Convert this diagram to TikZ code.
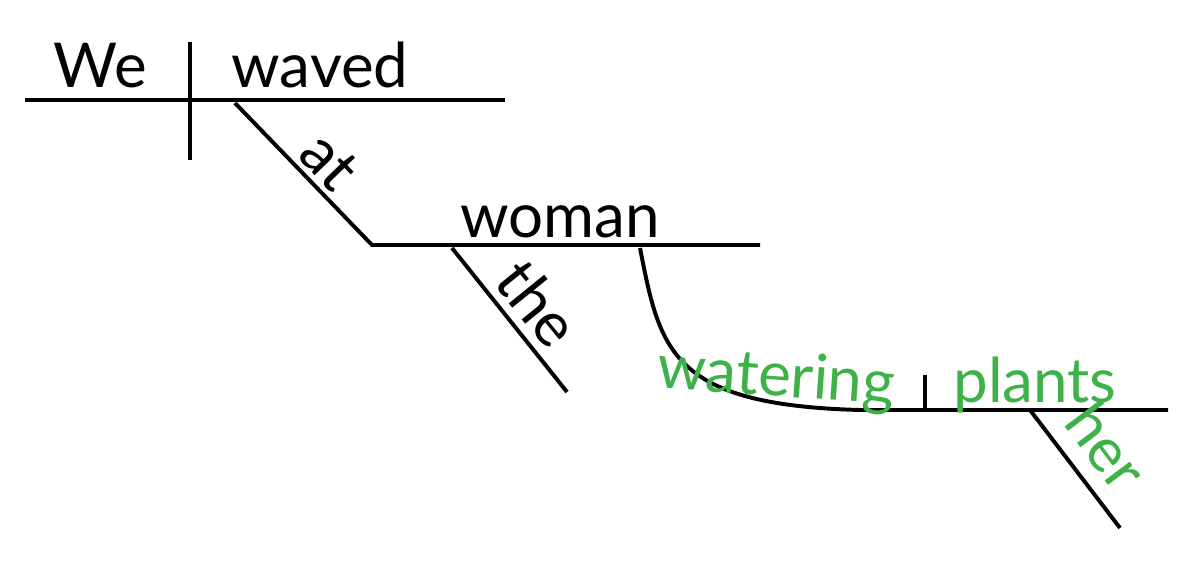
\documentclass[tikz,border=0pt]{standalone}
\usepackage{fontspec}
\setmainfont{Lato}
\usetikzlibrary{positioning}
\definecolor{mygreen}{RGB}{62,178,72}

\begin{document}
\begin{tikzpicture}[x=0.025cm,y=-0.025cm,
  line width=2.8pt,
  every node/.style={font=\fontsize{44}{50}\selectfont,inner sep=1pt},
  word/.style={anchor=base},
  green word/.style={word,text=mygreen}
]
\useasboundingbox (0,0) rectangle (1200,563);

% main line: subject and verb
\coordinate (m1) at (25,100);
\coordinate (m2) at (505,100);
\coordinate (d1) at (190,42);
\coordinate (d2) at (190,160);
\draw (m1) -- (m2);
\draw (d1) -- (d2);
\node[word] (we) at (100,88) {We};
\node[word] (waved) at (320,88) {waved};

% the preposition
\coordinate (p1) at (235,103);
\coordinate (p2) at (372,245);
\coordinate (o2) at (760,245);
\draw (p1) -- (p2) -- (o2);
\node[anchor=south,rotate=-46] (at) at (312,178) {at};
\node[word] (woman) at (560,238) {woman};

% the article
\coordinate (a1) at (452,248);
\coordinate (a2) at (567,392);
\draw (a1) -- (a2);
\node[anchor=south,rotate=-51] (the) at (518,320) {the};

% the participle phrase
\coordinate (g1) at (640,248);
\coordinate (g2) at (860,410);
\coordinate (g3) at (1168,410);
\coordinate (v1) at (925,375);
\coordinate (v2) at (925,410);
\draw (g1) .. controls (660,350) and (670,405) .. (g2) -- (g3);
\draw (v1) -- (v2);
\node[green word,rotate=-4] (watering) at (775,396) {watering};
\node[green word] (plants) at (1035,402) {plants};

% the possessive
\coordinate (h1) at (1030,410);
\coordinate (h2) at (1120,528);
\draw (h1) -- (h2);
\node[anchor=south,rotate=-53,text=mygreen] (her) at (1086,462) {her};
\end{tikzpicture}
\end{document}
